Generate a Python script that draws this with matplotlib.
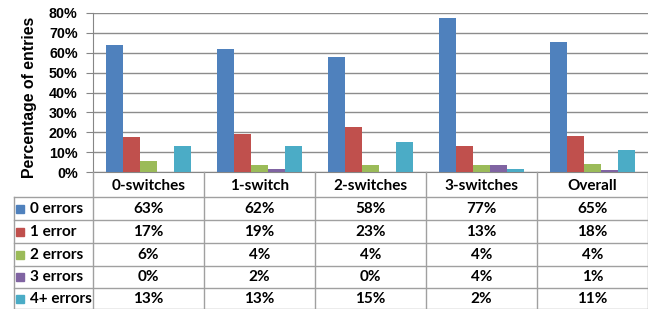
import matplotlib
matplotlib.use("Agg")
import matplotlib.pyplot as plt
from matplotlib.patches import Rectangle
import numpy as np

categories = ["0-switches", "1-switch", "2-switches", "3-switches", "Overall"]
series_names = ["0 errors", "1 error", "2 errors", "3 errors", "4+ errors"]
# bar heights (percent)
zero_err = [63.8, 61.7, 57.8, 77.3, 65.2]
one_err = [17.5, 19.0, 22.9, 13.3, 18.2]
two_err = [5.5, 3.5, 3.5, 3.5, 4.3]
three_err = [0.0, 1.6, 0.0, 3.5, 1.3]
four_plus_err = [13.3, 13.2, 15.2, 1.7, 11.0]
# data table labels
table_zero = ["63%", "62%", "58%", "77%", "65%"]
table_one = ["17%", "19%", "23%", "13%", "18%"]
table_two = ["6%", "4%", "4%", "4%", "4%"]
table_three = ["0%", "2%", "0%", "4%", "1%"]
table_four = ["13%", "13%", "15%", "2%", "11%"]
yticks = [0, 10, 20, 30, 40, 50, 60, 70, 80]

series = [zero_err, one_err, two_err, three_err, four_plus_err]
table_rows = [table_zero, table_one, table_two, table_three, table_four]
colors = ["#4F81BD", "#C0504D", "#9BBB59", "#8064A2", "#4BACC6"]

W, H = 648, 309
fig = plt.figure(figsize=(W / 100, H / 100), dpi=100)

# plot area in pixels
px_left, px_right = 93, 648
px_top, px_bottom = 12.7, 172.3
ax = fig.add_axes([px_left / W, (H - px_bottom) / H,
                   (px_right - px_left) / W, (px_bottom - px_top) / H])

n = len(categories)
x = np.arange(n)
group_w = 0.77
bw = group_w / len(series)
for i, (vals, c) in enumerate(zip(series, colors)):
    ax.bar(x - group_w / 2 + bw * (i + 0.5), vals, width=bw, color=c,
           edgecolor="none", zorder=3)

ax.set_xlim(-0.5, n - 0.5)
ax.set_ylim(0, 80)
ax.set_yticks(yticks)
ax.set_yticklabels([f"{t}%" for t in yticks], fontfamily="Liberation Sans",
                   fontweight="bold", fontsize=10.3)
ax.tick_params(axis="y", length=5, color="#868686", pad=6)
ax.set_xticks([])
ax.yaxis.grid(True, color="#8C8C8C", linewidth=1.0, zorder=0)
for s in ["top", "right"]:
    ax.spines[s].set_visible(False)
ax.spines["left"].set_color("#868686")
ax.spines["bottom"].set_color("#868686")
ax.set_facecolor("white")

fig.text(30 / W, 1 - 97 / H, "Percentage of entries", rotation=90,
         ha="center", va="center", fontfamily="Liberation Sans",
         fontweight="bold", fontsize=11.4)

# data table drawn in pixel coordinates
tax = fig.add_axes([0, 0, 1, 1])
tax.set_xlim(0, W)
tax.set_ylim(H, 0)
tax.axis("off")

cat_w = (px_right - px_left) / n
line_c = "#A0A0A0"
header_bottom = 197.3
row_h = 22.75
row_edges = [header_bottom + row_h * k for k in range(len(series) + 1)]
row_edges[-1] = min(row_edges[-1], H - 0.5)

# vertical lines
for k in range(n + 1):
    xx = px_left + cat_w * k
    tax.plot([xx, xx], [px_bottom, H], color=line_c, lw=1.0)
tax.plot([13.5, 13.5], [header_bottom, H], color=line_c, lw=1.0)
# horizontal lines
for yy in row_edges:
    tax.plot([13.5, px_right], [yy, yy], color=line_c, lw=1.0)

tfont = dict(fontfamily="Lato", fontweight="bold", fontsize=11)
for k, cat in enumerate(categories):
    tax.text(px_left + cat_w * (k + 0.5), (px_bottom + header_bottom) / 2 + 1,
             cat, ha="center", va="center", **tfont)
for r, (name, vals) in enumerate(zip(series_names, table_rows)):
    yc = (row_edges[r] + row_edges[r + 1]) / 2 + 0.5
    tax.add_patch(Rectangle((16, yc - 4), 8, 8, color=colors[r]))
    tax.text(29.5, yc, name, ha="left", va="center", **tfont)
    for k, v in enumerate(vals):
        tax.text(px_left + cat_w * (k + 0.5), yc, v, ha="center",
                 va="center", **tfont)

fig.savefig("out.png", dpi=100)
